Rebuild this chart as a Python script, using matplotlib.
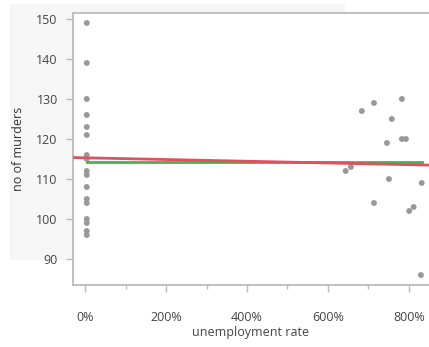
import numpy as np
import matplotlib
matplotlib.use("Agg")
import matplotlib.pyplot as plt
from matplotlib.patches import Rectangle
from matplotlib.ticker import MultipleLocator, FuncFormatter

# data (unemployment rate in %, number of murders)
unemp_low = [4, 4, 4, 4, 4, 4, 4, 4, 4, 4, 4, 4, 4, 4, 4, 4, 4]
murders_low = [149, 139, 130, 126, 123, 121, 116, 115, 112, 111, 108, 105, 104, 100, 99, 97, 96]
unemp_high = [644, 657, 684, 714, 714, 746, 751, 758, 783, 783, 793, 801, 812, 830, 832]
murders_high = [112, 113, 127, 129, 104, 119, 110, 125, 130, 120, 120, 102, 103, 86, 109]
# red trend line: value at 0% and slope per percentage point
red_trend = (115.3, -0.00215)

x = np.array(unemp_low + unemp_high, dtype=float)
y = np.array(murders_low + murders_high, dtype=float)

W, H = 429, 347
fig = plt.figure(figsize=(W / 100, H / 100), dpi=100)
plt.rcParams['font.family'] = ['Open Sans', 'DejaVu Sans']

# light background panel
fig.patches.append(Rectangle((10 / W, 1 - 260 / H), 335 / W, 256 / H,
                             transform=fig.transFigure, facecolor='#f6f6f6',
                             edgecolor='none', zorder=-5))

ax = fig.add_axes([73 / W, 1 - 285 / H, (429 - 73) / W, (285 - 13) / H])
ax.set_zorder(2)
ax.set_facecolor('white')
ax.set_xlim(-30, 850)
ax.set_ylim(83.5, 151.5)

ax.scatter(x, y, s=18, color='#999999', edgecolors='none', zorder=3)

# green: mean level over the data range
xs = np.array([x.min(), x.max()])
ax.plot(xs, [y.mean(), y.mean()], color='#4cb050', lw=2, zorder=4)
# red: trend line across the whole axis
ax.axline((0, red_trend[0]), slope=red_trend[1], color='#e0505e', lw=2, zorder=4)

for s in ['left', 'bottom', 'top']:
    ax.spines[s].set_color('#bbbbbb')
    ax.spines[s].set_linewidth(1.3)
ax.spines['right'].set_visible(False)

ax.xaxis.set_major_locator(MultipleLocator(200))
ax.xaxis.set_minor_locator(MultipleLocator(100))
ax.xaxis.set_major_formatter(FuncFormatter(lambda v, p: f"{v:.0f}%"))
ax.yaxis.set_major_locator(MultipleLocator(10))

ax.tick_params(axis='x', which='major', length=5, width=1, color='#bbbbbb',
               labelsize=9, labelcolor='#444444', pad=14)
ax.tick_params(axis='x', which='minor', length=3, width=1, color='#bbbbbb')
ax.tick_params(axis='y', which='major', length=5, width=1, color='#bbbbbb',
               labelsize=9, labelcolor='#444444', pad=6)

ax.set_xlabel('unemployment rate', fontsize=9, color='#444444', labelpad=1)
ax.set_ylabel('no of murders', fontsize=9, color='#333333', labelpad=8)

fig.savefig('out.png', dpi=100)
